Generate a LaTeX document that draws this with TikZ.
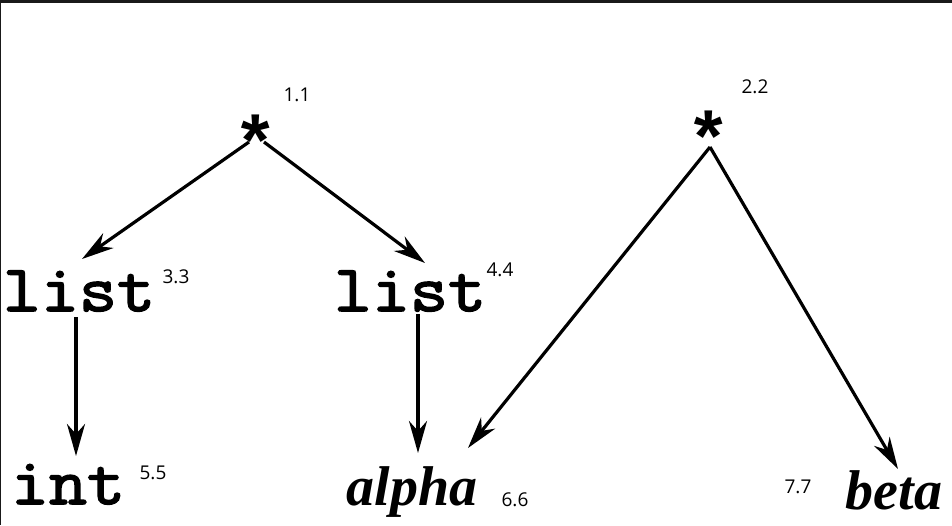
\documentclass[tikz,border=0pt]{standalone}
\usepackage{fontspec}
\setmainfont{Liberation Serif}
\newfontfamily\courf{Latin Modern Mono}[FakeBold=2.4,FakeStretch=1.12]
\newfontfamily\starf{Liberation Mono}
\newfontfamily\numf{Open Sans}
\usetikzlibrary{arrows.meta}
\tikzset{
  codetxt/.style={font=\courf\fontsize{66}{66}\selectfont, inner sep=0pt, anchor=base},
  vartxt/.style={font=\bfseries\itshape\fontsize{56}{56}\selectfont, inner sep=0pt, anchor=base},
  startxt/.style={font=\starf\bfseries\fontsize{74}{74}\selectfont, inner sep=0pt, anchor=base},
  numtxt/.style={font=\numf\fontsize{19}{19}\selectfont, inner sep=0pt, anchor=center},
  arr/.style={line width=3.2pt, -{Stealth[length=32pt,width=18pt,inset=10pt]}},
}
\begin{document}
\begin{tikzpicture}[x=1pt,y=-1pt]
\useasboundingbox (0,0) rectangle (952,525);
\fill[white] (0,0) rectangle (952,525);
\fill[black!90] (0,0) rectangle (952,3);
\fill[black!90] (0,0) rectangle (1.2,525);
% stars
\node[startxt] (s1) at (256,168) {*};
\node[startxt] (s2) at (709,164) {*};
% words
\node[codetxt] (l1) at (79,311) {list};
\node[codetxt] (l2) at (410,311) {list};
\node[codetxt] (in) at (68,504) {int};
\node[vartxt] (al) at (412,505) {alpha};
\node[vartxt] (be) at (894,509) {beta};
% numbers
\node[numtxt] (n1) at (297,95) {1.1};
\node[numtxt] (n2) at (755,87) {2.2};
\node[numtxt] (n3) at (176,277) {3.3};
\node[numtxt] (n4) at (500,270) {4.4};
\node[numtxt] (n5) at (153,473) {5.5};
\node[numtxt] (n6) at (515,500) {6.6};
\node[numtxt] (n7) at (798,487) {7.7};
% connector ends
\coordinate (s1l) at (249,142);
\coordinate (s1r) at (264,142);
\coordinate (s2b) at (710,147);
\coordinate (l1t) at (82,259);
\coordinate (l2t) at (425,263);
\coordinate (l1b) at (76,317);
\coordinate (l2b) at (418,314);
\coordinate (int) at (76,456);
\coordinate (alt) at (418,453);
\coordinate (alr) at (468,448);
\coordinate (bet) at (898,469);
\draw[arr] (s1l) -- (l1t);
\draw[arr] (s1r) -- (l2t);
\draw[arr] (l1b) -- (int);
\draw[arr] (l2b) -- (alt);
\draw[arr] (s2b) -- (alr);
\draw[arr] (s2b) -- (bet);
\end{tikzpicture}
\end{document}
